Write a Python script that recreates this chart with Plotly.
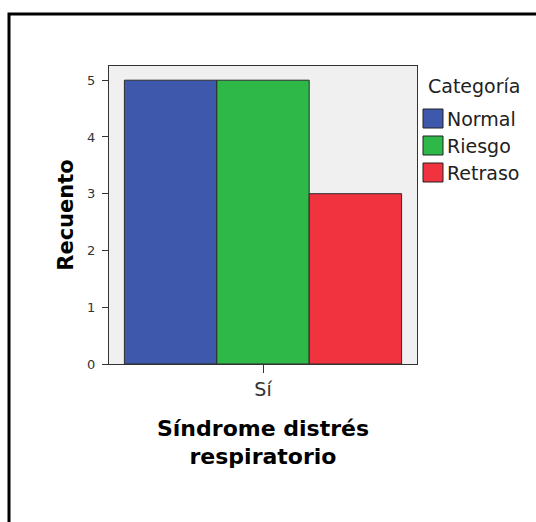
import plotly.graph_objects as go

categories = ["Sí"]
series_names = ["Normal", "Riesgo", "Retraso"]
series_values = [[5], [5], [3]]
series_colors = ["#3E58AC", "#2EB848", "#F0333F"]
y_ticks = [0, 1, 2, 3, 4, 5]

W, H = 536, 522
PLOT_L, PLOT_R, PLOT_T, PLOT_B = 109, 417, 66, 364  # in window pixels
L, T = PLOT_L, PLOT_T
PW, PH = PLOT_R - PLOT_L, PLOT_B - PLOT_T
R, B = W - L - PW, H - T - PH

def px(x):
    return (x - PLOT_L) / PW

def py(y):
    return (PLOT_B - y) / PH

fig = go.Figure()
for name, vals, col in zip(series_names, series_values, series_colors):
    fig.add_trace(go.Bar(
        x=categories, y=vals, name=name,
        marker=dict(color=col, line=dict(color="#2a2a2a", width=1)),
        showlegend=False,
    ))

shapes = [
    dict(type="rect", xref="paper", yref="paper",
         x0=px(9), x1=px(545), y0=py(14), y1=py(540),
         line=dict(color="black", width=3), fillcolor="rgba(0,0,0,0)", layer="above"),
]
annotations = [
    dict(text="Categoría", xref="paper", yref="paper", x=px(426), y=py(86),
         xanchor="left", yanchor="middle", showarrow=False,
         font=dict(family="DejaVu Sans", size=19, color="#222")),
]
for i, (name, col) in enumerate(zip(series_names, series_colors)):
    top = 109 + i * 27
    shapes.append(dict(type="rect", xref="paper", yref="paper",
                       x0=px(423), x1=px(443), y0=py(top), y1=py(top + 19),
                       line=dict(color="#222", width=1), fillcolor=col))
    annotations.append(dict(text=name, xref="paper", yref="paper",
                            x=px(445), y=py(top + 10), xanchor="left", yanchor="middle",
                            showarrow=False,
                            font=dict(family="DejaVu Sans", size=19, color="#222")))

fig.update_layout(
    width=W, height=H,
    margin=dict(l=L, r=R, t=T, b=B),
    paper_bgcolor="white", plot_bgcolor="#F0F0F0",
    barmode="group", bargap=0.1, bargroupgap=0,
    showlegend=False,
    shapes=shapes, annotations=annotations,
    xaxis=dict(
        showline=True, linecolor="#333", linewidth=1, mirror=True,
        ticks="outside", ticklen=8, tickcolor="#333",
        tickfont=dict(family="DejaVu Sans", size=19, color="#333"),
        title=dict(text="<b>Síndrome distrés<br>respiratorio</b>", standoff=21,
                   font=dict(family="DejaVu Sans", size=22, color="black")),
    ),
    yaxis=dict(
        range=[0, 5.25], tickvals=y_ticks, showgrid=False, zeroline=False,
        showline=True, linecolor="#333", linewidth=1, mirror=True,
        ticks="outside", ticklen=6, tickcolor="#333", ticklabelstandoff=4,
        tickfont=dict(family="DejaVu Sans", size=13, color="#333"),
        title=dict(text="<b>Recuento</b>", standoff=7,
                   font=dict(family="DejaVu Sans", size=21, color="black")),
    ),
)

fig.write_html(
    "out.html",
    config={"displayModeBar": False},
    post_script="document.body.style.margin='0';document.body.style.overflow='hidden';",
)
